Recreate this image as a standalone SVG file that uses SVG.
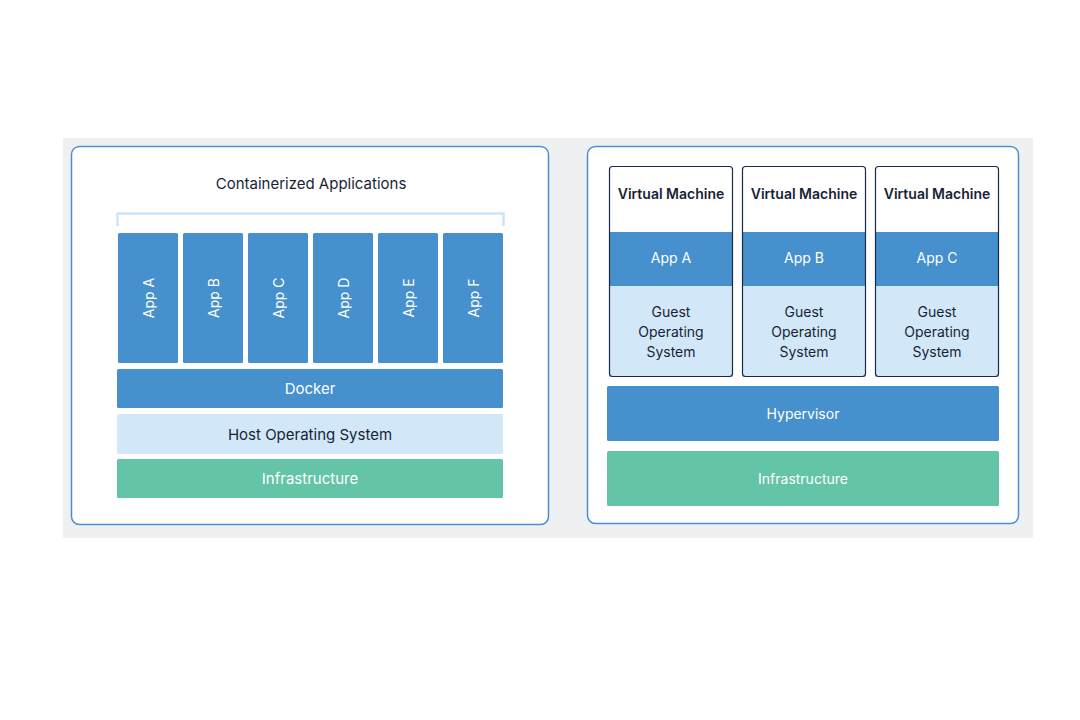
<svg xmlns="http://www.w3.org/2000/svg" width="1080" height="720" viewBox="0 0 1080 720">
<style>
text{font-family:"Inter","Lato","Liberation Sans",sans-serif;font-size:14px;text-anchor:middle;dominant-baseline:central}
.l{font-size:15px}
.panel{fill:#ffffff;stroke:#4a8fd0;stroke-width:1.5}
.blue{fill:#4590cd}
.light{fill:#d2e8f8}
.green{fill:#63c4a8}
.w{fill:#ffffff}
.d{fill:#1a1f36}
.vm{fill:none;stroke:#1a2a4a;stroke-width:1.2}
.b{font-weight:600}
</style>
<rect x="63" y="138" width="970" height="400" fill="#eff0f2"/>
<g id="containers-panel">
<rect class="panel" x="71.5" y="146.5" width="477" height="378" rx="8"/>
<text class="d l" x="311" y="183">Containerized Applications</text>
<path d="M117.5,226 V213.5 H503.5 V226" fill="none" stroke="#cfe4f5" stroke-width="2.5"/>
</g>
<g id="app-a"><rect class="blue" x="118" y="233" width="60" height="130" rx="1.5"/><text class="w" transform="translate(148,298) rotate(-90)">App A</text></g>
<g id="app-b"><rect class="blue" x="183" y="233" width="60" height="130" rx="1.5"/><text class="w" transform="translate(213,298) rotate(-90)">App B</text></g>
<g id="app-c"><rect class="blue" x="248" y="233" width="60" height="130" rx="1.5"/><text class="w" transform="translate(278,298) rotate(-90)">App C</text></g>
<g id="app-d"><rect class="blue" x="313" y="233" width="60" height="130" rx="1.5"/><text class="w" transform="translate(343,298) rotate(-90)">App D</text></g>
<g id="app-e"><rect class="blue" x="378" y="233" width="60" height="130" rx="1.5"/><text class="w" transform="translate(408,298) rotate(-90)">App E</text></g>
<g id="app-f"><rect class="blue" x="443" y="233" width="60" height="130" rx="1.5"/><text class="w" transform="translate(473,298) rotate(-90)">App F</text></g>
<g id="docker"><rect class="blue" x="117" y="369" width="386" height="39" rx="1.5"/><text class="w l" x="310" y="388.5">Docker</text></g>
<g id="host-os"><rect class="light" x="117" y="414" width="386" height="40" rx="1.5"/><text class="d l" x="310" y="434">Host Operating System</text></g>
<g id="infra-left"><rect class="green" x="117" y="459" width="386" height="39" rx="1.5"/><text class="w l" x="310" y="478.5">Infrastructure</text></g>

<g id="vm-panel">
<rect class="panel" x="587.5" y="146.5" width="431" height="377" rx="8"/>
</g>
<g id="vm-1">
<rect fill="#ffffff" x="609" y="166" width="124" height="66"/>
<rect class="blue" x="609" y="232" width="124" height="54"/>
<rect class="light" x="609" y="286" width="124" height="91"/>
<rect class="vm" x="609.5" y="166.5" width="123" height="210" rx="3"/>
<text class="d b" x="671" y="193">Virtual Machine</text>
<text class="w" x="671" y="257">App A</text>
<text class="d" x="671" y="311">Guest</text><text class="d" x="671" y="331">Operating</text><text class="d" x="671" y="351">System</text>
</g>
<g id="vm-2">
<rect fill="#ffffff" x="742" y="166" width="124" height="66"/>
<rect class="blue" x="742" y="232" width="124" height="54"/>
<rect class="light" x="742" y="286" width="124" height="91"/>
<rect class="vm" x="742.5" y="166.5" width="123" height="210" rx="3"/>
<text class="d b" x="804" y="193">Virtual Machine</text>
<text class="w" x="804" y="257">App B</text>
<text class="d" x="804" y="311">Guest</text><text class="d" x="804" y="331">Operating</text><text class="d" x="804" y="351">System</text>
</g>
<g id="vm-3">
<rect fill="#ffffff" x="875" y="166" width="124" height="66"/>
<rect class="blue" x="875" y="232" width="124" height="54"/>
<rect class="light" x="875" y="286" width="124" height="91"/>
<rect class="vm" x="875.5" y="166.5" width="123" height="210" rx="3"/>
<text class="d b" x="937" y="193">Virtual Machine</text>
<text class="w" x="937" y="257">App C</text>
<text class="d" x="937" y="311">Guest</text><text class="d" x="937" y="331">Operating</text><text class="d" x="937" y="351">System</text>
</g>
<g id="hypervisor"><rect class="blue" x="607" y="386" width="392" height="55" rx="1.5"/><text class="w" x="803" y="413">Hypervisor</text></g>
<g id="infra-right"><rect class="green" x="607" y="451" width="392" height="55" rx="1.5"/><text class="w" x="803" y="478.5">Infrastructure</text></g>
<g id="connectors"/>
</svg>
